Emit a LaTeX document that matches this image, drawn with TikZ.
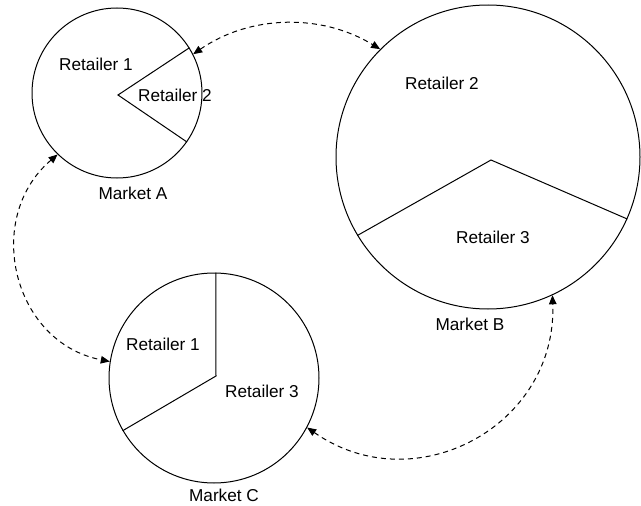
\documentclass[tikz,border=0pt]{standalone}
\usepackage{fontspec}
\setmainfont{Liberation Sans}
\usetikzlibrary{arrows.meta}
\begin{document}
\begin{tikzpicture}[x=1pt,y=-1pt,
  market/.style={circle,draw,line width=1pt,inner sep=0pt},
  lbl/.style={inner sep=0pt,font=\fontsize{17.2}{20}\selectfont},
  wedge/.style={line width=1pt},
  link/.style={line width=1pt,dash pattern=on 5pt off 4pt,{Triangle[length=9pt,width=7.5pt]}-{Triangle[length=9pt,width=7.5pt]}}]
\useasboundingbox (0,0) rectangle (641,506);
% markets
\node[market,minimum size=170pt] (A) at (117,93) {};
\node[market,minimum size=304pt] (B) at (488,157) {};
\node[market,minimum size=210pt] (C) at (214,378) {};
% wedges
\coordinate (Aapex) at (118,95);
\coordinate (Bapex) at (491,160);
\coordinate (Capex) at (216,376);
\draw[wedge] (A.32.4) -- (Aapex) -- (A.-35.5);
\draw[wedge] (B.211.9) -- (Bapex) -- (B.-24.9);
\draw[wedge] (C.89) -- (Capex) -- (C.210);
% labels
\node[lbl] (a1) at (96,64) {Retailer 1};
\node[lbl] (a2) at (175,95) {Retailer 2};
\node[lbl] (ma) at (133,193) {Market A};
\node[lbl] (b2) at (442,83) {Retailer 2};
\node[lbl] (b3) at (493,237) {Retailer 3};
\node[lbl] (mb) at (470,324) {Market B};
\node[lbl] (c1) at (163,344) {Retailer 1};
\node[lbl] (c3) at (262,391) {Retailer 3};
\node[lbl] (mc) at (224,495) {Market C};
% links
\draw[link] (A.27) .. controls (249.3,15.3) and (320.4,12.8) .. (B.135);
\draw[link] (A.226) .. controls (-17,218) and (12.5,342.5) .. (C.171);
\draw[link] (C.-28) .. controls (414.4,502.4) and (557.2,426.5) .. (B.-65.6);
\end{tikzpicture}
\end{document}
